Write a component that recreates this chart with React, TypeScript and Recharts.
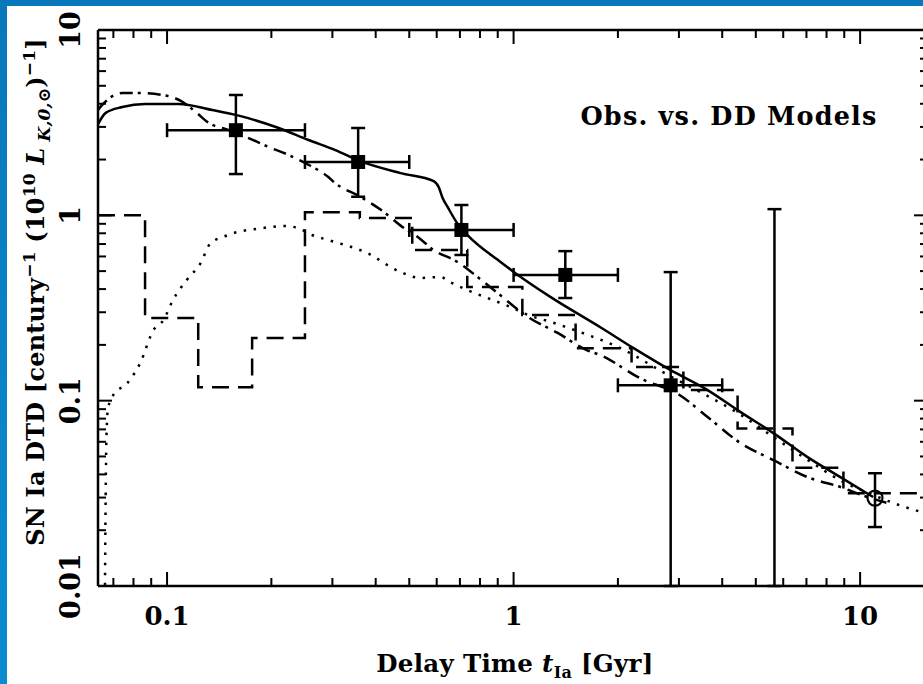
import React from 'react';
import { ComposedChart, Line, Scatter, XAxis, YAxis, ErrorBar } from 'recharts';

const W = 940;
const H = 684;
const FONT = '"DejaVu Serif", "Liberation Serif", serif';

// axes (log-log)
const xDomain = [0.0632, 15.7];
const yDomain = [0.01, 10];
const xTicks = [0.07, 0.08, 0.09, 0.1, 0.2, 0.3, 0.4, 0.5, 0.6, 0.7, 0.8, 0.9, 1, 2, 3, 4, 5, 6, 7, 8, 9, 10];
const xMajor = [0.1, 1, 10];
const xTickLabels = ['0.1', '1', '10'];
const yTicks = [
  0.01, 0.02, 0.03, 0.04, 0.05, 0.06, 0.07, 0.08, 0.09,
  0.1, 0.2, 0.3, 0.4, 0.5, 0.6, 0.7, 0.8, 0.9,
  1, 2, 3, 4, 5, 6, 7, 8, 9, 10,
];
const yMajor = [0.01, 0.1, 1, 10];
const yTickLabels = ['0.01', '0.1', '1', '10'];

// DD model, solid curve
const solidT = [0.0632, 0.0664, 0.0743, 0.0865, 0.108, 0.135, 0.161, 0.21, 0.256, 0.306, 0.356, 0.472, 0.588, 0.608, 0.624, 0.645, 0.693, 0.736, 0.917, 1.01, 1.28, 1.78, 2.22, 2.84, 3.63, 4.52, 5.62, 7.05, 8.77, 10.9];
const solidR = [3.1, 3.56, 3.84, 3.99, 3.99, 3.7, 3.45, 2.96, 2.55, 2.25, 1.98, 1.69, 1.53, 1.42, 1.24, 1.11, 0.887, 0.783, 0.56, 0.489, 0.362, 0.249, 0.192, 0.146, 0.114, 0.0867, 0.0668, 0.0496, 0.0387, 0.0302];

// DD model, dash-dot curve
const dashDotT = [0.0632, 0.065, 0.0743, 0.0826, 0.0969, 0.111, 0.121, 0.132, 0.15, 0.172, 0.196, 0.224, 0.251, 0.292, 0.306, 0.361, 0.42, 0.472, 0.529, 0.588, 0.689, 0.787, 0.899, 1.1, 1.34, 1.63, 1.78, 2.32, 3.02, 3.63, 4.52, 5.62, 7.05, 8.77, 10.5, 12.0];
const dashDotR = [3.7, 3.94, 4.57, 4.57, 4.46, 4.09, 3.61, 3.15, 2.89, 2.61, 2.34, 2.12, 1.91, 1.61, 1.49, 1.26, 1.05, 0.88, 0.764, 0.65, 0.56, 0.465, 0.381, 0.283, 0.232, 0.187, 0.176, 0.132, 0.107, 0.0816, 0.059, 0.0478, 0.0387, 0.0342, 0.0302, 0.028];

// DD model, dotted curve
const dottedT = [0.0662, 0.0665, 0.0668, 0.0675, 0.0699, 0.0767, 0.0837, 0.0913, 0.0976, 0.104, 0.114, 0.125, 0.133, 0.15, 0.188, 0.219, 0.239, 0.262, 0.292, 0.377, 0.472, 0.539, 0.615, 0.656, 0.736, 0.841, 0.98, 1.1, 1.28, 1.6, 2.0, 2.84, 3.63, 4.43, 5.6, 7.05, 8.8, 10.9, 12.5, 15.7];
const dottedR = [0.0101, 0.03, 0.06, 0.09, 0.107, 0.124, 0.16, 0.24, 0.272, 0.349, 0.448, 0.553, 0.7, 0.783, 0.853, 0.875, 0.853, 0.783, 0.736, 0.627, 0.494, 0.459, 0.465, 0.436, 0.395, 0.358, 0.32, 0.29, 0.266, 0.23, 0.195, 0.135, 0.106, 0.086, 0.064, 0.048, 0.037, 0.031, 0.028, 0.0245];

// DD model, dashed histogram (bin edges and rates)
const histEdges = [0.0632, 0.0864, 0.123, 0.176, 0.25, 0.36, 0.51, 0.735, 1.06, 1.51, 2.19, 3.09, 4.43, 6.38, 8.95, 15.7];
const histRates = [1.0, 0.279, 0.118, 0.218, 1.04, 0.967, 0.65, 0.41, 0.29, 0.192, 0.152, 0.114, 0.0707, 0.0435, 0.0317];

// observed points (SXDS)
const obsT = [0.158, 0.356, 0.707, 1.41, 2.84];
const obsR = [2.88, 1.94, 0.834, 0.477, 0.121];
const obsTLo = [0.1, 0.25, 0.5, 1.0, 2.0];
const obsTHi = [0.25, 0.5, 1.0, 2.0, 4.0];
const obsRLo = [1.67, 1.26, 0.611, 0.358, 0.01];
const obsRHi = [4.46, 2.96, 1.137, 0.641, 0.494];

// bin with only a range (no marker)
const limT = [5.66];
const limR = [0.07];
const limRLo = [0.01];
const limRHi = [1.08];

// local elliptical rate (open circle)
const localT = [11.04];
const localR = [0.0298];
const localRLo = [0.0208];
const localRHi = [0.0406];

const zip = (xs: number[], ys: number[]) => xs.map((x, i) => ({ x, y: ys[i] }));
const solidData = zip(solidT, solidR);
const dashDotData = zip(dashDotT, dashDotR);
const dottedData = zip(dottedT, dottedR);
const histData = histEdges.map((x, i) => ({ x, y: histRates[Math.min(i, histRates.length - 1)] }));

const withErr = (xs: number[], ys: number[], ylo: number[], yhi: number[], xlo?: number[], xhi?: number[]) =>
  xs.map((x, i) => ({
    x,
    y: ys[i],
    ey: [ys[i] - ylo[i], yhi[i] - ys[i]],
    ex: xlo && xhi ? [x - xlo[i], xhi[i] - x] : [0, 0],
  }));
const obsData = withErr(obsT, obsR, obsRLo, obsRHi, obsTLo, obsTHi);
const limData = withErr(limT, limR, limRLo, limRHi);
const localData = withErr(localT, localR, localRLo, localRHi);

const INK = '#000';
const LW = 2.5;

const BottomTick = (p: any) => {
  const v = p.payload.value;
  const k = xMajor.indexOf(v);
  return (
    <g>
      <line x1={p.x} x2={p.x} y1={p.y} y2={p.y - (k >= 0 ? 14 : 8)} stroke={INK} strokeWidth={2} />
      {k >= 0 && (
        <text x={p.x} y={p.y + 39} textAnchor="middle" fontFamily={FONT} fontWeight="bold" fontSize={26} fill={INK}>
          {xTickLabels[k]}
        </text>
      )}
    </g>
  );
};

const TopTick = (p: any) => {
  const major = xMajor.indexOf(p.payload.value) >= 0;
  return <line x1={p.x} x2={p.x} y1={p.y} y2={p.y + (major ? 14 : 8)} stroke={INK} strokeWidth={2} />;
};

const LeftTick = (p: any) => {
  const k = yMajor.indexOf(p.payload.value);
  const tx = p.x - 18;
  return (
    <g>
      <line x1={p.x} x2={p.x + (k >= 0 ? 14 : 8)} y1={p.y} y2={p.y} stroke={INK} strokeWidth={2} />
      {k >= 0 && (
        <text x={tx} y={p.y} transform={`rotate(-90 ${tx} ${p.y})`} textAnchor="middle" fontFamily={FONT} fontWeight="bold" fontSize={27} fill={INK}>
          {yTickLabels[k]}
        </text>
      )}
    </g>
  );
};

const RightTick = (p: any) => {
  const major = yMajor.indexOf(p.payload.value) >= 0;
  return <line x1={p.x} x2={p.x - (major ? 14 : 8)} y1={p.y} y2={p.y} stroke={INK} strokeWidth={2} />;
};

const XTitle = () => (
  <text x={515} y={672} textAnchor="middle" fontFamily={FONT} fontWeight="bold" fontSize={24.5} letterSpacing={0.3} fill={INK}>
    Delay Time <tspan fontStyle="italic">t</tspan>
    <tspan dy={6} fontSize={16}>Ia</tspan>
    <tspan dy={-6}> [Gyr]</tspan>
  </text>
);

const YTitle = () => (
  <text transform="rotate(-90)" x={-292} y={44} textAnchor="middle" fontFamily={FONT} fontWeight="bold" fontSize={24} letterSpacing={0.2} fill={INK}>
    <tspan>SN Ia DTD [century</tspan>
    <tspan dy={-9} fontSize={17}>−1</tspan>
    <tspan dy={9}> (10</tspan>
    <tspan dy={-9} fontSize={17}>10</tspan>
    <tspan dy={9}> </tspan>
    <tspan fontStyle="italic">L</tspan>
    <tspan dy={6} fontSize={17} fontStyle="italic"> K,0,⊙</tspan>
    <tspan dy={-6}>)</tspan>
    <tspan dy={-9} fontSize={17}>−1</tspan>
    <tspan dy={9}>]</tspan>
  </text>
);

const PanelTitle = () => (
  <text x={729} y={125} textAnchor="middle" fontFamily={FONT} fontWeight="bold" fontSize={25.5} letterSpacing={1.2} fill={INK}>
    Obs. vs. DD Models
  </text>
);

const Square = (p: any) => <rect x={p.cx - 7} y={p.cy - 7} width={14} height={14} fill={INK} />;
const Ring = (p: any) => <circle cx={p.cx} cy={p.cy} r={7.5} fill="none" stroke={INK} strokeWidth={2.2} />;
const NoMark = () => <g />;

// plot frame: left 98, top 30, right 928, bottom 586; axes take 1px each
const axisCommon = {
  type: 'number' as const,
  scale: 'log' as const,
  allowDataOverflow: true,
  interval: 0,
  tickSize: 0,
  tickMargin: 0,
  tickLine: false,
  axisLine: { stroke: INK, strokeWidth: 2.5 },
};

export default function App() {
  return (
    <div style={{ position: 'fixed', left: 0, top: 0, width: 923, height: 684, overflow: 'hidden', background: '#fff' }}>
      <ComposedChart width={W} height={H} margin={{ top: 29, right: W - 928 - 1, bottom: H - 586 - 1, left: 97 }}>
        <XAxis {...axisCommon} dataKey="x" domain={xDomain} ticks={xTicks} height={1} tick={BottomTick} label={{ content: XTitle }} />
        <XAxis {...axisCommon} xAxisId="top" orientation="top" dataKey="x" domain={xDomain} ticks={xTicks} height={1} tick={TopTick} label={{ content: PanelTitle }} />
        <YAxis {...axisCommon} domain={yDomain} ticks={yTicks} width={1} tick={LeftTick} label={{ content: YTitle }} />
        <YAxis {...axisCommon} yAxisId="right" orientation="right" domain={yDomain} ticks={yTicks} width={1} tick={RightTick} />

        <Line data={histData} dataKey="y" type="stepAfter" stroke={INK} strokeWidth={LW} strokeDasharray="17 9" dot={false} isAnimationActive={false} />
        <Line data={dottedData} dataKey="y" type="monotone" stroke={INK} strokeWidth={LW} strokeDasharray="2.5 7.5" dot={false} isAnimationActive={false} />
        <Line data={dashDotData} dataKey="y" type="monotone" stroke={INK} strokeWidth={LW} strokeDasharray="13 5 3 7" dot={false} isAnimationActive={false} />
        <Line data={solidData} dataKey="y" type="monotone" stroke={INK} strokeWidth={LW} dot={false} isAnimationActive={false} />

        <Scatter data={obsData} dataKey="y" shape={Square} isAnimationActive={false}>
          <ErrorBar dataKey="ex" direction="x" width={7} stroke={INK} strokeWidth={LW} />
          <ErrorBar dataKey="ey" direction="y" width={7} stroke={INK} strokeWidth={LW} />
        </Scatter>
        <Scatter data={limData} dataKey="y" shape={NoMark} isAnimationActive={false}>
          <ErrorBar dataKey="ey" direction="y" width={7} stroke={INK} strokeWidth={LW} />
        </Scatter>
        <Scatter data={localData} dataKey="y" shape={Ring} isAnimationActive={false}>
          <ErrorBar dataKey="ey" direction="y" width={7} stroke={INK} strokeWidth={LW} />
        </Scatter>
      </ComposedChart>
      <div style={{ position: 'absolute', left: 0, top: 0, width: 923, height: 6, background: '#0878bb' }} />
      <div style={{ position: 'absolute', left: 0, top: 0, width: 7, height: 684, background: 'linear-gradient(to bottom, #0878bb, #0a8ccf)' }} />
    </div>
  );
}
